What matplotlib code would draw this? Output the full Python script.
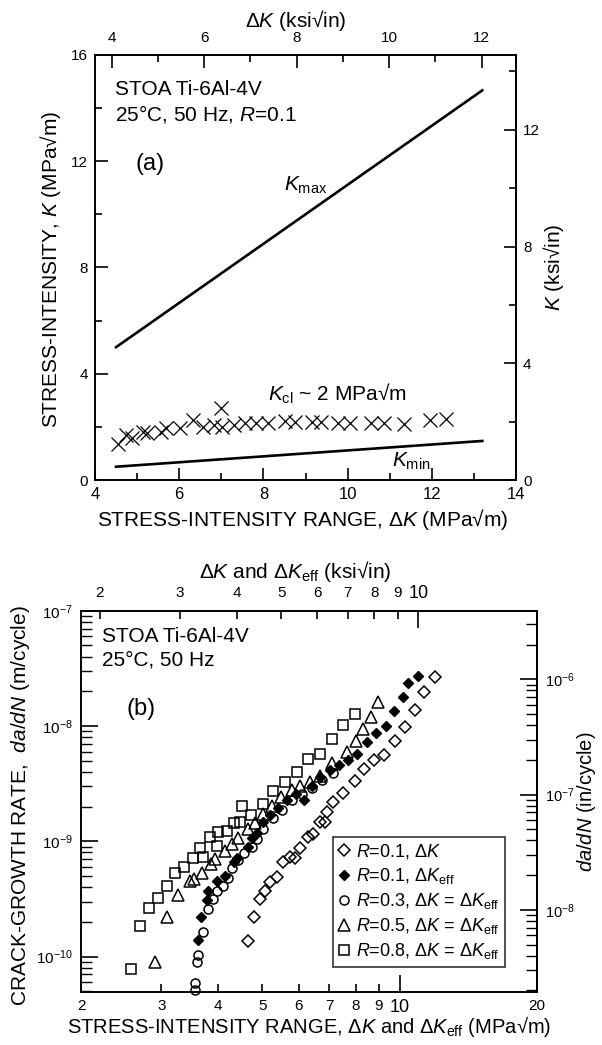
import math
import matplotlib.pyplot as plt
import matplotlib.ticker as mticker

plt.rcParams['font.family'] = ['Liberation Sans', 'DejaVu Sans']
plt.rcParams['mathtext.fontset'] = 'custom'
plt.rcParams['mathtext.rm'] = 'Liberation Sans'
plt.rcParams['mathtext.it'] = 'Liberation Sans:italic'
plt.rcParams['mathtext.bf'] = 'Liberation Sans:bold'
plt.rcParams['xtick.direction'] = 'in'
plt.rcParams['ytick.direction'] = 'in'
plt.rcParams['axes.linewidth'] = 1.4

MPA_TO_KSI = 0.9101   # ksi*sqrt(in) per MPa*sqrt(m)
M_TO_IN = 39.37

# ---- (a) K vs dK, R = 0.1 ----
line_dk = [4.5, 13.2]
kmax_line = [5.0, 14.67]
kmin_line = [0.5, 1.47]

kcl_dk = [4.54, 4.74, 4.88, 5.15, 5.24, 5.56, 5.69, 6.01, 6.33, 6.56, 6.83, 6.99, 7.01, 7.29,
          7.56, 7.83, 8.10, 8.51, 8.74, 9.15, 9.37, 9.78, 10.05, 10.55, 10.87, 11.33, 11.96, 12.33]
kcl_k = [1.36, 1.69, 1.57, 1.82, 1.76, 1.82, 1.95, 1.95, 2.26, 2.01, 2.07, 2.70, 2.01, 2.07,
         2.13, 2.13, 2.13, 2.23, 2.20, 2.20, 2.20, 2.16, 2.13, 2.16, 2.16, 2.11, 2.26, 2.28]

# ---- (b) da/dN vs dK ----
dk_r01 = [4.64, 4.79, 4.94, 5.06, 5.19, 5.37, 5.55, 5.75, 5.89, 6.04, 6.28, 6.44, 6.69,
          6.86, 6.92, 7.15, 7.52, 7.98, 8.36, 8.78, 9.24, 9.74, 10.27, 10.78, 11.33, 11.92]
dadn_r01 = [1.37e-10, 2.19e-10, 3.13e-10, 3.71e-10, 4.44e-10, 4.93e-10, 6.58e-10, 7.35e-10,
            7.21e-10, 8.83e-10, 1.08e-9, 1.16e-9, 1.48e-9, 1.48e-9, 1.80e-9, 2.17e-9, 2.61e-9,
            3.35e-9, 4.21e-9, 5.12e-9, 5.60e-9, 7.34e-9, 9.71e-9, 1.38e-8, 1.98e-8, 2.66e-8]

dkeff_r01 = [3.61, 3.67, 3.78, 3.80, 3.98, 4.14, 4.32, 4.40, 4.65, 4.74, 4.86, 5.02, 5.19,
             5.41, 5.66, 5.92, 6.17, 6.42, 6.69, 7.03, 7.36, 7.72, 8.05, 8.46, 8.87, 9.32,
             9.73, 10.18, 10.43, 10.99]
dadn_eff_r01 = [1.38e-10, 2.20e-10, 3.10e-10, 3.69e-10, 4.48e-10, 5.00e-10, 6.61e-10,
                7.16e-10, 8.98e-10, 1.06e-9, 1.17e-9, 1.48e-9, 1.69e-9, 1.95e-9, 2.28e-9,
                2.57e-9, 2.28e-9, 3.02e-9, 3.61e-9, 4.15e-9, 4.59e-9, 5.07e-9, 5.66e-9,
                7.31e-9, 8.65e-9, 1.00e-8, 1.35e-8, 1.77e-8, 2.37e-8, 2.71e-8]

dk_r03 = [3.55, 3.55, 3.59, 3.61, 3.70, 3.79, 3.90, 3.97, 4.09, 4.21, 4.28, 4.43, 4.56,
          4.74, 4.86, 5.02, 5.28, 5.51, 5.80, 6.10, 6.41, 6.76, 7.15]
dadn_r03 = [5.08e-11, 5.87e-11, 9.03e-11, 1.03e-10, 1.64e-10, 2.57e-10, 3.17e-10, 3.69e-10,
            4.09e-10, 4.83e-10, 5.83e-10, 6.89e-10, 7.87e-10, 8.98e-10, 1.04e-9, 1.27e-9,
            1.58e-9, 1.87e-9, 2.28e-9, 2.57e-9, 2.88e-9, 3.40e-9, 3.89e-9]

dk_r05 = [2.91, 3.09, 3.27, 3.46, 3.54, 3.68, 3.86, 3.93, 4.13, 4.29, 4.43, 4.65, 4.82,
          5.02, 5.25, 5.49, 5.80, 6.04, 6.36, 6.69, 7.09, 7.66, 8.02, 8.32, 8.65, 8.98]
dadn_r05 = [8.89e-11, 2.19e-10, 3.39e-10, 4.50e-10, 4.67e-10, 5.36e-10, 6.30e-10, 6.98e-10,
            8.24e-10, 9.53e-10, 1.07e-9, 1.27e-9, 1.45e-9, 1.71e-9, 2.02e-9, 2.42e-9,
            2.79e-9, 3.02e-9, 3.27e-9, 3.68e-9, 4.75e-9, 5.98e-9, 7.34e-9, 9.36e-9,
            1.19e-8, 1.63e-8]

dk_r08 = [2.57, 2.69, 2.82, 2.95, 3.08, 3.21, 3.36, 3.52, 3.65, 3.71, 3.84, 3.97, 4.00,
          4.19, 4.32, 4.46, 4.50, 4.71, 5.01, 5.28, 5.60, 5.94, 6.30, 6.69, 7.09, 7.52, 7.98]
dadn_r08 = [7.76e-11, 1.84e-10, 2.65e-10, 3.21e-10, 4.12e-10, 5.28e-10, 6.03e-10, 7.12e-10,
            8.69e-10, 7.35e-10, 1.10e-9, 9.10e-10, 1.21e-9, 1.24e-9, 1.45e-9, 1.48e-9,
            2.02e-9, 1.69e-9, 2.09e-9, 2.75e-9, 3.29e-9, 4.02e-9, 5.18e-9, 5.69e-9,
            7.67e-9, 1.01e-8, 1.27e-8]


def pow10(v, pos):
    return r'$10^{%d}$' % round(math.log10(v))


def plain(v, pos):
    return f'{v:g}'


fig = plt.figure(figsize=(6.02, 10.45), dpi=100)

# ================= panel (a) =================
ax = fig.add_axes([95 / 602, 1 - 480 / 1045, 421 / 602, 425 / 1045])
ax.plot(line_dk, kmax_line, color='black', lw=1.9)
ax.plot(line_dk, kmin_line, color='black', lw=1.9)
ax.plot(kcl_dk, kcl_k, linestyle='none', marker='x', color='black', markersize=10,
        markeredgewidth=0.9)
ax.set_xlim(4, 14)
ax.set_ylim(0, 16)
ax.set_xticks([4, 6, 8, 10, 12, 14])
ax.set_xticks([5, 7, 9, 11, 13], minor=True)
ax.set_yticks([0, 4, 8, 12, 16])
ax.set_yticks([2, 6, 10, 14], minor=True)
ax.tick_params(which='major', length=9, width=1.2, pad=5)
ax.tick_params(axis='x', which='major', labelsize=12)
ax.tick_params(axis='y', which='major', labelsize=11)
ax.tick_params(which='minor', length=5, width=1.2)
ax.set_xlabel(r'STRESS-INTENSITY RANGE, $\Delta K$ (MPa√m)', fontsize=15, va='baseline')
ax.xaxis.set_label_coords(0.492, -0.108)
ax.set_ylabel(r'STRESS-INTENSITY, $K$ (MPa√m)', fontsize=15)
ax.yaxis.set_label_coords(-0.075, 0.495)

top = ax.secondary_xaxis('top', functions=(lambda x: x * MPA_TO_KSI, lambda x: x / MPA_TO_KSI))
top.set_xticks([4, 6, 8, 10, 12])
top.set_xticks([5, 7, 9, 11], minor=True)
top.tick_params(which='major', length=9, width=1.2, labelsize=11, pad=7)
top.tick_params(which='minor', length=5, width=1.2)
top.set_xlabel(r'$\Delta K$ (ksi√in)', fontsize=15, labelpad=3)
top.xaxis.label.set_x(0.477)

right = ax.secondary_yaxis('right', functions=(lambda y: y * MPA_TO_KSI, lambda y: y / MPA_TO_KSI))
right.set_yticks([0, 4, 8, 12])
right.set_yticks([2, 6, 10, 14], minor=True)
right.tick_params(which='major', length=9, width=1.2, labelsize=11, pad=5)
right.tick_params(which='minor', length=5, width=1.2)
right.set_ylabel(r'$K$ (ksi√in)', fontsize=15, labelpad=1)

ax.text(0.047, 0.906, 'STOA Ti-6Al-4V', transform=ax.transAxes, fontsize=15)
ax.text(0.047, 0.847, r'25°C, 50 Hz, $R$=0.1', transform=ax.transAxes, fontsize=15)
ax.text(0.097, 0.729, '(a)', transform=ax.transAxes, fontsize=17)
ax.text(8.5, 10.9, r'$K_{\mathrm{max}}$', fontsize=15)
ax.text(8.1, 3.0, r'$K_{\mathrm{cl}}$ ~ 2 MPa√m', fontsize=15)
ax.text(11.05, 0.5, r'$K_{\mathrm{min}}$', fontsize=15)

# ================= panel (b) =================
bx = fig.add_axes([81 / 602, 1 - 992 / 1045, 456 / 602, 381.3 / 1045])
mk = dict(linestyle='none', color='black', markerfacecolor='none', markeredgewidth=1.1)
bx.plot(dk_r08, dadn_r08, marker='s', markersize=7.5,
        label=r'$R$=0.8, $\Delta K$ = $\Delta K_{\mathrm{eff}}$', **mk)
bx.plot(dk_r05, dadn_r05, marker='^', markersize=9,
        label=r'$R$=0.5, $\Delta K$ = $\Delta K_{\mathrm{eff}}$', **mk)
bx.plot(dk_r03, dadn_r03, marker='o', markersize=6.5, clip_on=False,
        label=r'$R$=0.3, $\Delta K$ = $\Delta K_{\mathrm{eff}}$', **mk)
bx.plot(dkeff_r01, dadn_eff_r01, linestyle='none', marker='D', markersize=5, color='black',
        label=r'$R$=0.1, $\Delta K_{\mathrm{eff}}$')
bx.plot(dk_r01, dadn_r01, marker='D', markersize=6.5, label=r'$R$=0.1, $\Delta K$', **mk)
bx.set_xscale('log')
bx.set_yscale('log')
bx.set_xlim(2, 20)
bx.set_ylim(4.93e-11, 1e-7)

bx.xaxis.set_major_locator(mticker.FixedLocator([10]))
bx.xaxis.set_minor_locator(mticker.FixedLocator([2, 3, 4, 5, 6, 7, 8, 9, 20]))
bx.xaxis.set_major_formatter(mticker.FuncFormatter(plain))
bx.xaxis.set_minor_formatter(mticker.FuncFormatter(plain))
bx.tick_params(axis='x', which='major', length=12, width=1.2, labelsize=13, pad=5)
bx.tick_params(axis='x', which='minor', length=6, width=1.2, labelsize=11, pad=5)
bx.yaxis.set_major_locator(mticker.LogLocator(base=10))
bx.yaxis.set_minor_locator(mticker.LogLocator(base=10, subs=range(2, 10)))
bx.yaxis.set_major_formatter(mticker.FuncFormatter(pow10))
bx.yaxis.set_minor_formatter(mticker.NullFormatter())
bx.tick_params(axis='y', which='major', length=12, width=1.2, labelsize=11, pad=6)
bx.tick_params(axis='y', which='minor', length=8, width=1.0)

bx.set_xlabel(r'STRESS-INTENSITY RANGE, $\Delta K$ and $\Delta K_{\mathrm{eff}}$ (MPa√m)',
              fontsize=14.5, va='baseline')
bx.xaxis.set_label_coords(0.501, -0.1075)
bx.set_ylabel(r'CRACK-GROWTH RATE,  $da/dN$ (m/cycle)', fontsize=15)
bx.yaxis.set_label_coords(-0.108, 0.488)

btop = bx.secondary_xaxis('top', functions=(lambda x: x * MPA_TO_KSI, lambda x: x / MPA_TO_KSI))
btop.xaxis.set_major_locator(mticker.FixedLocator([10]))
btop.xaxis.set_minor_locator(mticker.FixedLocator([2, 3, 4, 5, 6, 7, 8, 9]))
btop.xaxis.set_major_formatter(mticker.FuncFormatter(plain))
btop.xaxis.set_minor_formatter(mticker.FuncFormatter(plain))
btop.tick_params(which='major', length=12, width=1.2, labelsize=13, pad=6)
btop.tick_params(which='minor', length=6, width=1.2, labelsize=11, pad=8)
btop.set_xlabel(r'$\Delta K$ and $\Delta K_{\mathrm{eff}}$ (ksi√in)', fontsize=15, labelpad=5)
btop.xaxis.label.set_x(0.471)

bright = bx.secondary_yaxis('right', functions=(lambda y: y * M_TO_IN, lambda y: y / M_TO_IN))
bright.yaxis.set_major_locator(mticker.LogLocator(base=10))
bright.yaxis.set_minor_locator(mticker.LogLocator(base=10, subs=range(2, 10)))
bright.yaxis.set_major_formatter(mticker.FuncFormatter(pow10))
bright.yaxis.set_minor_formatter(mticker.NullFormatter())
bright.tick_params(which='major', length=12, width=1.2, labelsize=10.5, pad=6)
bright.tick_params(which='minor', length=8, width=1.0)
bright.set_ylabel(r'$da/dN$ (in/cycle)', fontsize=14.5, labelpad=0)

bx.text(0.045, 0.919, 'STOA Ti-6Al-4V', transform=bx.transAxes, fontsize=15)
bx.text(0.045, 0.856, '25°C, 50 Hz', transform=bx.transAxes, fontsize=15)
bx.text(0.099, 0.726, '(b)', transform=bx.transAxes, fontsize=17)

handles, labels = bx.get_legend_handles_labels()
order = [4, 3, 2, 1, 0]
leg = bx.legend([handles[i] for i in order], [labels[i] for i in order],
                loc='upper left', bbox_to_anchor=(0.552, 0.407), borderaxespad=0,
                fontsize=13, frameon=True, fancybox=False, edgecolor='black',
                handlelength=0.7, handletextpad=0.3, labelspacing=0.28, borderpad=0.3)
leg.get_frame().set_linewidth(1.2)

fig.savefig('out.png', dpi=100)
